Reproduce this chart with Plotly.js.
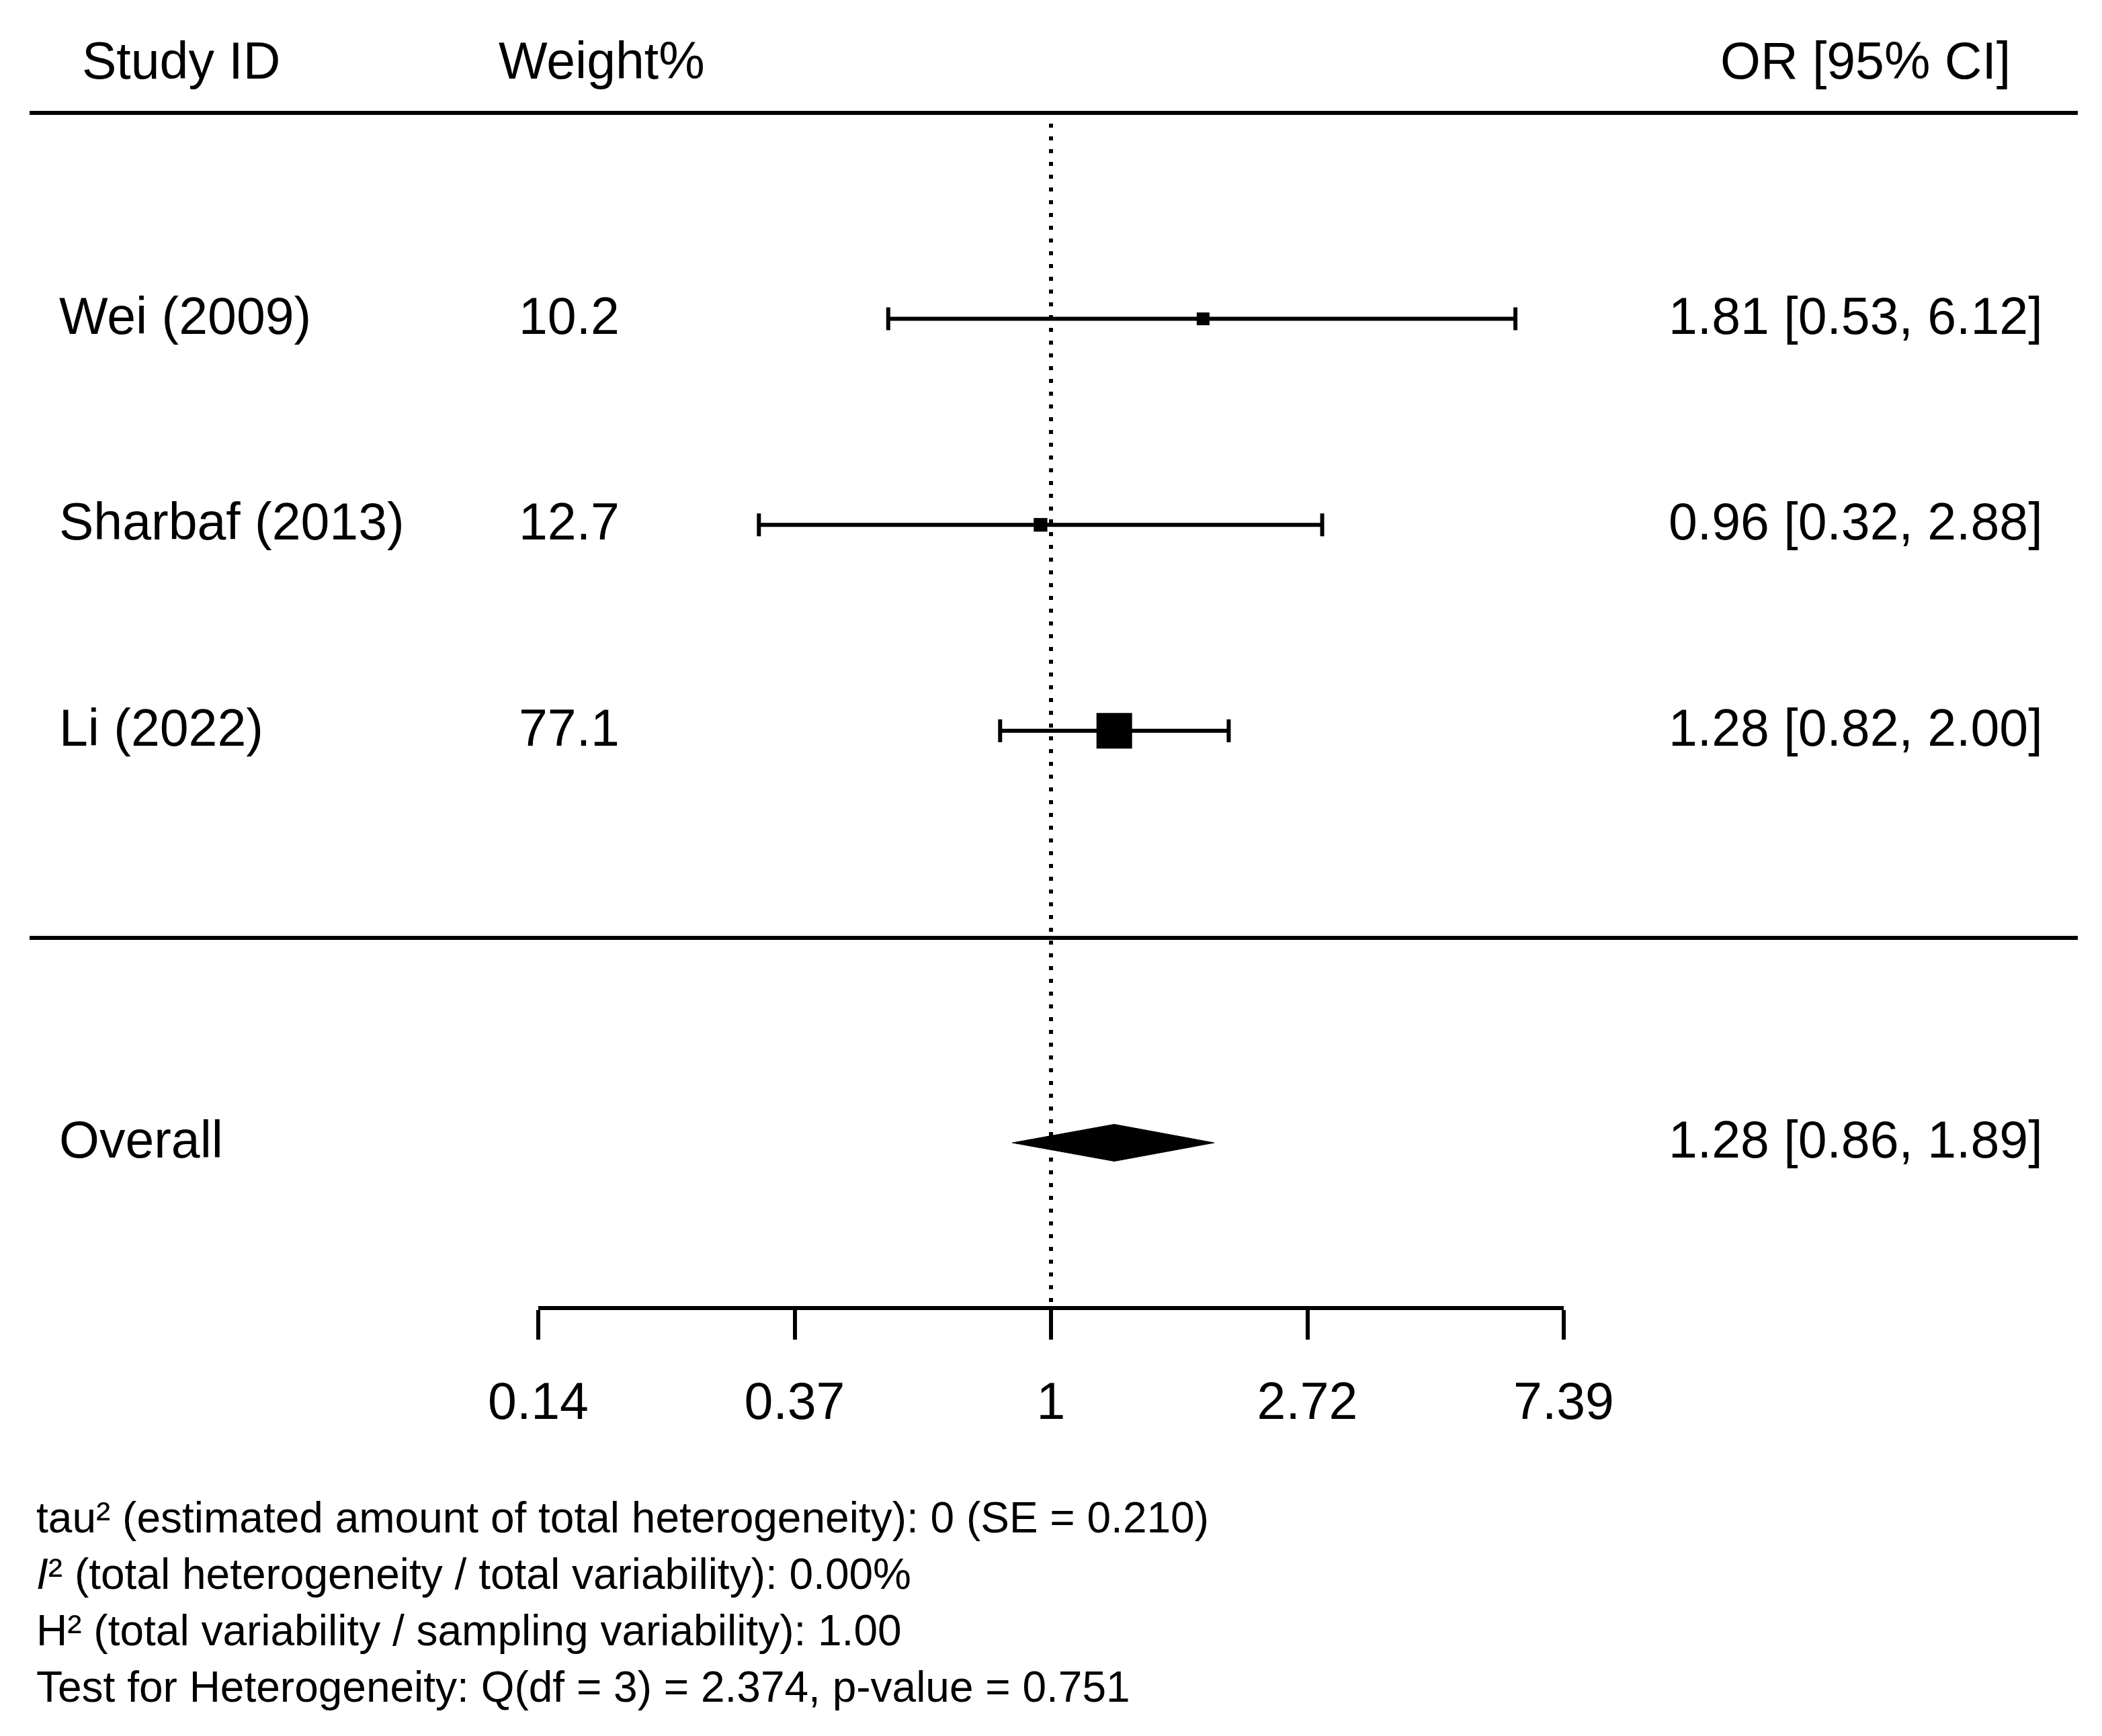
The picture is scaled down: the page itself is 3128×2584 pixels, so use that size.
<!DOCTYPE html>
<html><head><meta charset="utf-8">
<script src="https://cdn.plot.ly/plotly-3.0.1.min.js"></script>
<style>html,body{margin:0;padding:0;background:#fff;} #chart{width:3128px;height:2584px;}</style>
</head><body><div id="chart"></div>
<script>
// ---------- data ----------
const studies = ['Wei (2009)', 'Sharbaf (2013)', 'Li (2022)'];
const weights = [10.2, 12.7, 77.1];
const orEst = [1.81, 0.96, 1.28];
const orLower = [0.53, 0.32, 0.82];
const orUpper = [6.12, 2.88, 2.00];
const overallLabel = 'Overall';
const overallEst = 1.28;
const overallLower = 0.86;
const overallUpper = 1.89;
const tickValsLog = [-2, -1, 0, 1, 2];
const tickLabels = ['0.14', '0.37', '1', '2.72', '7.39'];
const headers = ['Study ID', 'Weight%', 'OR [95% CI]'];
const footnotes = [
  'tau\u00B2 (estimated amount of total heterogeneity): 0 (SE = 0.210)',
  '<i>I</i>\u00B2 (total heterogeneity / total variability): 0.00%',
  'H\u00B2 (total variability / sampling variability): 1.00',
  'Test for Heterogeneity: Q(df = 3) = 2.374, p-value = 0.751'
];

// ---------- layout helpers ----------
const W = 3128, H = 2584;
const ROW_PX = 306.6, OVERALL_PX = 1701;
const rowOf = px => 1 + (OVERALL_PX - px) / ROW_PX;
const px2x = px => px / W;
const FONT = 'Liberation Sans, Arial, Helvetica, sans-serif';
const BIG = 77, SMALL = 64;
const TXT_UP = 5 / ROW_PX;   // small optical correction for text boxes
const TXT_LEFT = 4;          // annotation padding correction (px)

const n = studies.length;
const rows = studies.map((s, i) => n + 2 - i); // 5,4,3
const ln = v => Math.log(v);
const wMin = Math.min(...weights), wMax = Math.max(...weights);
const sizes = weights.map(w => 19 + (w - wMin) / (wMax - wMin) * 34);
const fmt = (e, l, u) => e.toFixed(2) + ' [' + l.toFixed(2) + ', ' + u.toFixed(2) + ']';

const axisPx = 1947;
const traces = [
  { // reference line at OR = 1
    x: [0, 0], y: [rowOf(184), rowOf(axisPx)], mode: 'lines',
    line: { color: '#000', width: 6, dash: '6px,13px' }, hoverinfo: 'skip'
  },
  { // studies
    x: orEst.map(ln), y: rows, mode: 'markers', type: 'scatter',
    marker: { symbol: 'square', size: sizes, color: '#000', opacity: 1, line: { width: 0 } },
    error_x: {
      type: 'data', symmetric: false,
      array: orEst.map((e, i) => ln(orUpper[i]) - ln(e)),
      arrayminus: orEst.map((e, i) => ln(e) - ln(orLower[i])),
      thickness: 6, width: 17, color: '#000'
    }
  },
  { // overall diamond
    x: [ln(overallLower), ln(overallEst), ln(overallUpper), ln(overallEst), ln(overallLower)],
    y: [1, 1 + 27.5 / ROW_PX, 1, 1 - 27.5 / ROW_PX, 1],
    mode: 'lines', fill: 'toself', fillcolor: '#000',
    line: { color: '#000', width: 1 }
  }
];

const ann = [];
const addText = (text, xpx, y, anchor, size) => ann.push({
  text, x: px2x(anchor === 'left' ? xpx - TXT_LEFT : (anchor === 'right' ? xpx + 2 : xpx)),
  xref: 'paper', y: y + TXT_UP, yref: 'y', xanchor: anchor, yanchor: 'middle',
  showarrow: false, font: { family: FONT, size: size || BIG, color: '#000' }
});
const headRow = rowOf(95);
addText(headers[0], 124, headRow, 'left');
addText(headers[1], 744, headRow, 'left');
addText(headers[2], 2992, headRow, 'right');
studies.forEach((s, i) => {
  addText(s, 90, rows[i], 'left');
  addText(weights[i].toFixed(1), 847, rows[i], 'center');
  addText(fmt(orEst[i], orLower[i], orUpper[i]), 3040, rows[i], 'right');
});
addText(overallLabel, 90, 1, 'left');
addText(fmt(overallEst, overallLower, overallUpper), 3040, 1, 'right');
footnotes.forEach((t, i) => addText(t, 56, rowOf(2264 + 84 * i), 'left', SMALL));

const shapes = [168, 1396].map(px => ({
  type: 'line', xref: 'paper', yref: 'y', x0: px2x(44), x1: px2x(3092),
  y0: rowOf(px), y1: rowOf(px), line: { color: '#000', width: 6 }
}));

const layout = {
  width: W, height: H, margin: { l: 0, r: 0, t: 0, b: 0, pad: 0 },
  paper_bgcolor: '#fff', plot_bgcolor: '#fff', showlegend: false,
  font: { family: FONT, color: '#000' },
  xaxis: {
    domain: [px2x(801), px2x(2327)], range: [-2, 2], anchor: 'free',
    position: (H - axisPx) / H, side: 'bottom',
    tickvals: tickValsLog, ticktext: tickLabels,
    showline: true, linewidth: 6, linecolor: '#000',
    ticks: 'outside', ticklen: 44, tickwidth: 6, tickcolor: '#000',
    ticklabelstandoff: 26,
    tickfont: { family: FONT, size: BIG, color: '#000' },
    showgrid: false, zeroline: false, fixedrange: true, automargin: false
  },
  yaxis: {
    domain: [0, 1], range: [rowOf(H), rowOf(0)], visible: false,
    showgrid: false, zeroline: false, fixedrange: true
  },
  shapes, annotations: ann
};

Plotly.newPlot('chart', traces, layout, { staticPlot: true, displayModeBar: false });
</script>
</body></html>
